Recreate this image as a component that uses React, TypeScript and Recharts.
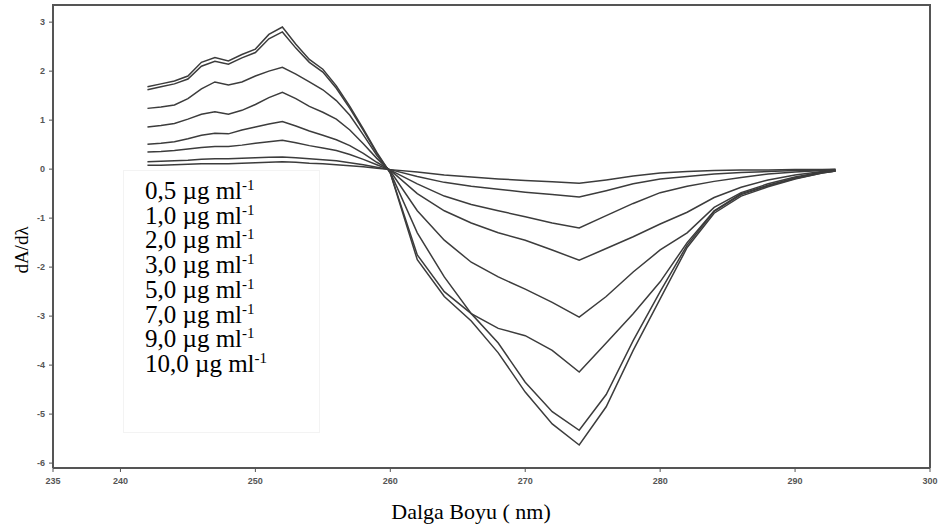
import { LineChart, Line, XAxis, YAxis, Label, Legend } from "recharts";

// wavelength grid (nm)
const WAVELENGTH = [
  242, 243, 244, 245, 246, 247, 248, 249, 250, 251, 252, 253, 254, 255, 256, 257, 258, 259, 260,
  262, 264, 266, 268, 270, 272, 274, 276, 278, 280, 282, 284, 286, 288, 290, 292, 293,
];

// dA/dλ for each concentration
const C05 = [
  0.08, 0.08, 0.09, 0.1, 0.11, 0.11, 0.11, 0.12, 0.13, 0.14, 0.15, 0.14, 0.12, 0.11, 0.09, 0.07, 0.05, 0.02, -0.01,
  -0.06, -0.12, -0.16, -0.2, -0.23, -0.26, -0.29, -0.22, -0.14, -0.08, -0.05, -0.03, -0.02, -0.02, -0.01, -0.01, 0,
];
const C10 = [
  0.15, 0.16, 0.17, 0.18, 0.2, 0.21, 0.21, 0.22, 0.23, 0.24, 0.25, 0.23, 0.21, 0.19, 0.17, 0.13, 0.09, 0.04, -0.01,
  -0.15, -0.27, -0.35, -0.41, -0.47, -0.52, -0.57, -0.44, -0.3, -0.2, -0.15, -0.1, -0.07, -0.05, -0.03, -0.02, -0.01,
];
const C20 = [
  0.35, 0.36, 0.38, 0.41, 0.44, 0.46, 0.46, 0.49, 0.53, 0.56, 0.59, 0.54, 0.48, 0.43, 0.38, 0.3, 0.2, 0.09, -0.02,
  -0.3, -0.55, -0.72, -0.85, -0.97, -1.1, -1.2, -0.95, -0.7, -0.48, -0.35, -0.25, -0.17, -0.1, -0.06, -0.03, -0.02,
];
const C30 = [
  0.51, 0.53, 0.56, 0.62, 0.69, 0.73, 0.72, 0.8, 0.86, 0.92, 0.97, 0.88, 0.78, 0.69, 0.6, 0.48, 0.32, 0.14, -0.02,
  -0.5, -0.85, -1.1, -1.3, -1.45, -1.65, -1.86, -1.62, -1.38, -1.12, -0.88, -0.58, -0.37, -0.22, -0.12, -0.05, -0.03,
];
const C50 = [
  0.86, 0.89, 0.93, 1.02, 1.12, 1.17, 1.12, 1.2, 1.32, 1.46, 1.57, 1.44, 1.28, 1.16, 1.02, 0.8, 0.52, 0.22, -0.04,
  -0.85, -1.45, -1.9, -2.2, -2.45, -2.72, -3.02, -2.6, -2.1, -1.65, -1.3, -0.78, -0.48, -0.3, -0.16, -0.06, -0.03,
];
const C70 = [
  1.24, 1.27, 1.31, 1.44, 1.64, 1.78, 1.72, 1.78, 1.9, 2.0, 2.08, 1.94, 1.78, 1.62, 1.4, 1.1, 0.7, 0.28, -0.06,
  -1.3, -2.2, -2.95, -3.25, -3.4, -3.7, -4.14, -3.55, -2.95, -2.3, -1.5, -0.85, -0.5, -0.33, -0.18, -0.07, -0.04,
];
const C90 = [
  1.62, 1.68, 1.74, 1.84, 2.1, 2.2, 2.14, 2.27, 2.38, 2.66, 2.8, 2.47, 2.18, 1.98, 1.65, 1.24, 0.79, 0.32, -0.08,
  -1.75, -2.5, -2.95, -3.55, -4.35, -4.95, -5.33, -4.6, -3.5, -2.5, -1.55, -0.86, -0.52, -0.34, -0.19, -0.08, -0.04,
];
const C100 = [
  1.68, 1.74, 1.8, 1.9, 2.18, 2.28, 2.21, 2.34, 2.45, 2.75, 2.9, 2.55, 2.24, 2.04, 1.7, 1.28, 0.82, 0.34, -0.08,
  -1.85, -2.6, -3.1, -3.75, -4.55, -5.2, -5.63, -4.85, -3.7, -2.65, -1.6, -0.9, -0.55, -0.36, -0.2, -0.08, -0.04,
];

const SERIES_KEYS = ["c05", "c10", "c20", "c30", "c50", "c70", "c90", "c100"];
const SERIES_VALUES = [C05, C10, C20, C30, C50, C70, C90, C100];
const SERIES_NAMES = ["0,5", "1,0", "2,0", "3,0", "5,0", "7,0", "9,0", "10,0"];

const X_TICKS = [235, 240, 250, 260, 270, 280, 290, 300];
const Y_TICKS = [-6, -5, -4, -3, -2, -1, 0, 1, 2, 3];
const X_DOMAIN = [235, 300];
const Y_DOMAIN = [-6.1, 3.35];

const data = WAVELENGTH.map((nm, i) => {
  const row: Record<string, number> = { nm };
  SERIES_KEYS.forEach((k, s) => {
    row[k] = SERIES_VALUES[s][i];
  });
  return row;
});

const FRAME = "#555";
const SERIF = "'Liberation Serif', 'Times New Roman', serif";
const tickStyle = { fontSize: 9, fill: "#555", fontFamily: "Liberation Sans", fontWeight: 700 };

// layout
const W = 942;
const H = 526;
const MARGIN = { top: 5, right: 12, left: 23, bottom: 0 };
const Y_AXIS_W = 30;
const X_AXIS_H = 58;
const PLOT = {
  left: MARGIN.left + Y_AXIS_W,
  top: MARGIN.top,
  right: W - MARGIN.right,
  bottom: H - MARGIN.bottom - X_AXIS_H,
};

function ConcentrationLegend() {
  return (
    <div
      style={{
        background: "#fff",
        border: "1px solid #f3f3f3",
        boxSizing: "border-box",
        width: 197,
        height: 263,
        padding: "8px 0 0 21px",
        fontFamily: SERIF,
        fontSize: 25,
        lineHeight: "24.7px",
        color: "#000",
      }}
    >
      {SERIES_NAMES.map((n) => (
        <div key={n} style={{ whiteSpace: "nowrap" }}>
          {n} µg ml<sup style={{ fontSize: 15, verticalAlign: "9px", lineHeight: 0 }}>-1</sup>
        </div>
      ))}
    </div>
  );
}

// y axis title, plus the top and right edges of the plot box
function YTitleAndFrame() {
  return (
    <g>
      <text
        x={21}
        y={250}
        transform="rotate(-90, 21, 250)"
        textAnchor="middle"
        dominantBaseline="central"
        fontFamily={SERIF}
        fontSize={19}
        fill="#000"
      >
        dA/dλ
      </text>
      <path
        d={`M${PLOT.left - 1},${PLOT.top} H${PLOT.right} V${PLOT.bottom}`}
        fill="none"
        stroke={FRAME}
        strokeWidth={2}
      />
    </g>
  );
}

export default function App() {
  return (
    <div style={{ position: "absolute", left: 0, top: 0, width: W, height: H, background: "#fff" }}>
      <LineChart width={W} height={H} data={data} margin={MARGIN}>
        <XAxis
          dataKey="nm"
          type="number"
          domain={X_DOMAIN}
          ticks={X_TICKS}
          interval={0}
          height={X_AXIS_H}
          tick={tickStyle}
          tickSize={4}
          tickMargin={6}
          axisLine={{ stroke: FRAME, strokeWidth: 2 }}
          tickLine={{ stroke: FRAME }}
        >
          <Label
            content={() => (
              <text x={471} y={519} textAnchor="middle" fontFamily={SERIF} fontSize={22} fill="#000">
                Dalga Boyu ( nm)
              </text>
            )}
          />
        </XAxis>
        <YAxis
          type="number"
          domain={Y_DOMAIN}
          ticks={Y_TICKS}
          interval={0}
          width={Y_AXIS_W}
          tick={tickStyle}
          tickSize={4}
          tickMargin={4}
          axisLine={{ stroke: FRAME, strokeWidth: 2 }}
          tickLine={{ stroke: FRAME }}
        >
          <Label content={() => <YTitleAndFrame />} />
        </YAxis>
        <Legend
          layout="vertical"
          align="center"
          verticalAlign="middle"
          content={() => <ConcentrationLegend />}
          wrapperStyle={{ left: 123, top: 170, width: 197, height: 263 }}
        />
        {SERIES_KEYS.map((k, s) => (
          <Line
            key={k}
            dataKey={k}
            name={SERIES_NAMES[s]}
            type="linear"
            stroke="#3c3c3c"
            strokeWidth={1.5}
            dot={false}
            isAnimationActive={false}
          />
        ))}
      </LineChart>
    </div>
  );
}
